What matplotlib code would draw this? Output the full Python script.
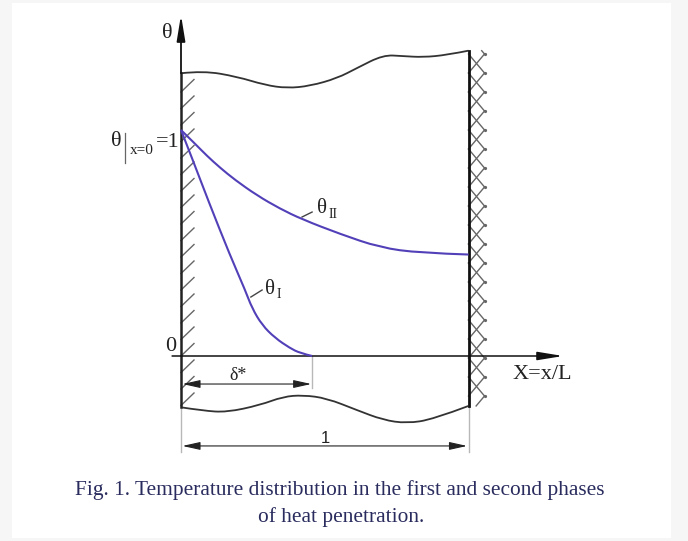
import matplotlib.pyplot as plt
from matplotlib.patches import Rectangle, PathPatch
from matplotlib.path import Path

# diagram coordinates: X = x/L (0 at left wall, 1 at right wall), theta (0 at X axis, 1 at wall value)
theta_I_x = [0.0, 0.045, 0.094, 0.170, 0.223, 0.247, 0.282, 0.327, 0.379, 0.414, 0.456]
theta_I_y = [1.0, 0.854, 0.690, 0.447, 0.292, 0.212, 0.137, 0.080, 0.035, 0.013, 0.0]

theta_II_x = [0.0, 0.049, 0.090, 0.136, 0.188, 0.264, 0.344, 0.421, 0.553, 0.692, 0.831, 1.0]
theta_II_y = [1.0, 0.939, 0.886, 0.833, 0.779, 0.711, 0.652, 0.605, 0.540, 0.480, 0.456, 0.449]

delta_star = 0.456

# break lines (top and bottom of the plate)
top_x = [0.0, 0.077, 0.195, 0.292, 0.369, 0.449, 0.543, 0.612, 0.703, 0.772, 0.842, 0.925, 1.0]
top_y = [1.251, 1.262, 1.236, 1.199, 1.185, 1.195, 1.229, 1.274, 1.332, 1.327, 1.322, 1.332, 1.351]
bot_x = [0.0, 0.077, 0.159, 0.275, 0.355, 0.424, 0.507, 0.611, 0.703, 0.785, 0.877, 1.0]
bot_y = [-0.227, -0.242, -0.249, -0.217, -0.180, -0.173, -0.187, -0.239, -0.283, -0.298, -0.280, -0.221]

W, H = 688, 541
X0, SX = 181.0, 287.5      # pixel of X=0, pixels per unit X
Y0, SY = 356.0, 226.0      # pixel of theta=0, pixels per unit theta


def smooth_line(ax, xs, ys, **kw):
    # quadratic bezier through the midpoints of the read points
    verts = [(xs[0], ys[0])]
    codes = [Path.MOVETO]
    for i in range(1, len(xs) - 1):
        mid = ((xs[i] + xs[i + 1]) / 2, (ys[i] + ys[i + 1]) / 2)
        if i == len(xs) - 2:
            mid = (xs[-1], ys[-1])
        verts += [(xs[i], ys[i]), mid]
        codes += [Path.CURVE3, Path.CURVE3]
    ax.add_patch(PathPatch(Path(verts, codes), facecolor="none", **kw))


fig = plt.figure(figsize=(W / 100, H / 100), dpi=100, facecolor="#f6f6f6")
fig.patches.append(Rectangle((12 / W, 3 / H), 659 / W, 535 / H, transform=fig.transFigure,
                             facecolor="white", edgecolor="none", zorder=0))
ax = fig.add_axes([0, 0, 1, 1])
ax.set_zorder(2)
ax.set_xlim(-X0 / SX, (W - X0) / SX)
ax.set_ylim((Y0 - H) / SY, Y0 / SY)
ax.axis("off")
ax.patch.set_alpha(0)

serif = "Liberation Serif"
curve_c = "#5140b8"
hatch_c = "#666666"
gray = "#b8b8b8"

# walls
ax.plot([0, 0], [bot_y[0], top_y[0]], color="#222222", lw=1.8, zorder=3)
ax.plot([1, 1], [bot_y[-1], top_y[-1]], color="#111111", lw=2.0, zorder=3)
# wavy break lines
smooth_line(ax, top_x, top_y, edgecolor="#333333", lw=1.3)
smooth_line(ax, bot_x, bot_y, edgecolor="#333333", lw=1.3)

# theta axis with arrow
ax.annotate("", xy=(0, 1.509), xytext=(0, top_y[0]),
            arrowprops=dict(arrowstyle="-|>,head_length=1.1,head_width=0.18", color="#111111",
                            lw=1.3, mutation_scale=14, shrinkA=0, shrinkB=0))
# X axis
ax.annotate("", xy=(1.329, 0), xytext=(-0.031, 0),
            arrowprops=dict(arrowstyle="-|>,head_length=1.1,head_width=0.18", color="#111111",
                            lw=1.1, mutation_scale=14, shrinkA=0, shrinkB=0))

# left wall hatching
dxh, dyh = 13 / SX, 12.5 / SY
for k in range(20):
    yl = (Y0 - 92 - 16.5 * k) / SY
    ax.plot([0, dxh], [yl, yl + dyh], color=hatch_c, lw=1.0)

# right wall cross hatching
xr = 1 + 16 / SX
P = 19 / SY
ytop, ybot = top_y[-1], bot_y[-1]
for k in range(19):
    yv = (Y0 - 54 - 19 * k) / SY
    for yw in (yv + P, yv - P):
        x1, y1 = 1.0, yw
        if y1 > ytop:
            t = (ytop - yv) / (y1 - yv)
            x1, y1 = xr + (1.0 - xr) * t, ytop
        if y1 < ybot:
            t = (ybot - yv) / (y1 - yv)
            x1, y1 = xr + (1.0 - xr) * t, ybot
        ax.plot([xr, x1], [yv, y1], color=hatch_c, lw=1.0)
    ax.plot([xr], [yv], "o", ms=1.3, color=hatch_c)

# temperature profiles
smooth_line(ax, theta_I_x, theta_I_y, edgecolor=curve_c, lw=1.5, zorder=4)
smooth_line(ax, theta_II_x, theta_II_y, edgecolor=curve_c, lw=1.5, zorder=4)

# extension lines
ax.plot([0, 0], [bot_y[0], -0.425], color=gray, lw=1.0)
ax.plot([1, 1], [bot_y[-1], -0.425], color=gray, lw=1.0)
ax.plot([delta_star, delta_star], [0, -0.142], color=gray, lw=1.0)

# dimension lines
dim = dict(arrowstyle="<|-|>,head_length=0.9,head_width=0.2", color="#222222",
           lw=0.8, mutation_scale=12, shrinkA=0, shrinkB=0)
ax.annotate("", xy=(0.005, -0.124), xytext=(delta_star - 0.003, -0.124), arrowprops=dim)
ax.annotate("", xy=(0.005, -0.398), xytext=(0.995, -0.398), arrowprops=dim)

# leaders
ax.plot([0.421, 0.456], [0.615, 0.637], color="#444444", lw=1.0)
ax.plot([0.243, 0.282], [0.261, 0.292], color="#444444", lw=1.0)

# labels
tk = dict(family=serif, color="#222222", ha="center", va="center")
ax.text(-0.049, 1.429, "θ", fontsize=16, **tk)
ax.text(-0.226, 0.951, "θ", fontsize=16, **tk)
ax.plot([-0.195, -0.195], [0.985, 0.855], color="#666666", lw=0.9)
ax.text(-0.136, 0.91, "x=0", fontsize=11, **tk)
ax.text(-0.046, 0.945, "=1", fontsize=16, **tk)
ax.text(-0.035, 0.044, "0", fontsize=16, **tk)
ax.text(0.198, -0.088, "δ*", fontsize=13, **tk)
ax.text(1.256, -0.084, "X=x/L", fontsize=16, **tk)
ax.text(0.501, -0.363, "1", fontsize=12, family="Liberation Sans", color="#222222",
        ha="center", va="center")
ax.text(0.490, 0.652, "θ", fontsize=15, **tk)
ax.text(0.528, 0.628, "II", fontsize=10, **tk)
ax.text(0.310, 0.296, "θ", fontsize=15, **tk)
ax.text(0.340, 0.272, "I", fontsize=10, **tk)

# caption
cap = dict(family=serif, color="#2a2c5e", fontsize=15.4, ha="center", va="center")
fig.text(340 / W, 1 - 490 / H, "Fig. 1. Temperature distribution in the first and second phases", **cap)
fig.text(341 / W, 1 - 517 / H, "of heat penetration.", **cap)

fig.savefig("out.png", dpi=100, facecolor=fig.get_facecolor())
